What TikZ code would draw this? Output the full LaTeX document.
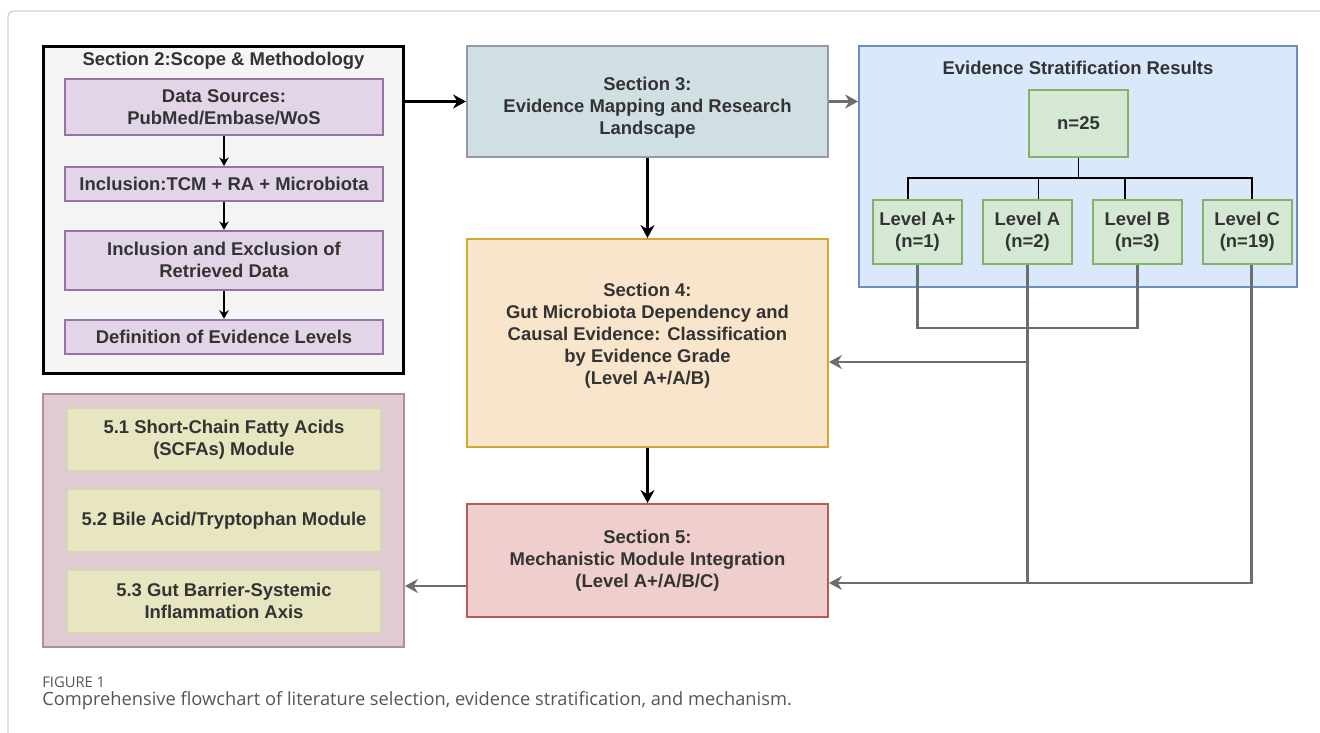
\documentclass[tikz,border=0pt]{standalone}
\usepackage{fontspec}
\setmainfont{Liberation Sans}
\newfontfamily\capfont{Open Sans}
\usetikzlibrary{arrows.meta,positioning}
\definecolor{txt}{HTML}{333333}
\definecolor{secgray}{HTML}{F5F5F5}
\definecolor{pfill}{HTML}{E1D5E7}
\definecolor{pdraw}{HTML}{9673A6}
\definecolor{bfill}{HTML}{D0DFE4}
\definecolor{bdraw}{HTML}{939CA6}
\definecolor{ofill}{HTML}{F8E5CC}
\definecolor{odraw}{HTML}{D4A634}
\definecolor{rfill}{HTML}{EFCECE}
\definecolor{rdraw}{HTML}{B85A57}
\definecolor{sfill}{HTML}{DAE8FC}
\definecolor{sdraw}{HTML}{6C8EBF}
\definecolor{gfill}{HTML}{D5E8D4}
\definecolor{gdraw}{HTML}{82B366}
\definecolor{mfill}{HTML}{E0CAD3}
\definecolor{mdraw}{HTML}{AD8E99}
\definecolor{yfill}{HTML}{E8E6C1}
\definecolor{ydraw}{HTML}{D8D5B0}
\definecolor{lgray}{HTML}{6D6D6D}
\definecolor{framegray}{HTML}{D4D4D4}
\definecolor{capgray}{HTML}{555555}
\begin{document}
\begin{tikzpicture}[x=0.02cm,y=-0.02cm,
    font=\fontsize{10.5}{12.5}\selectfont\bfseries,text=txt,
    box/.style={rectangle,draw,line width=1.1pt,align=center,inner sep=1pt},
    purplebox/.style={box,fill=pfill,draw=pdraw,minimum width=6.36cm},
    modbox/.style={box,fill=yfill,draw=ydraw,minimum width=6.28cm,minimum height=1.26cm},
    lvlbox/.style={box,fill=gfill,draw=gdraw,minimum width=1.78cm,minimum height=1.28cm},
    secbox/.style={box,minimum width=7.22cm},
    smallarr/.style={-{Stealth[length=0.17cm,width=0.19cm]},line width=1pt},
    blackarr/.style={-{Stealth[length=0.26cm,width=0.28cm]},line width=1.6pt},
    grayline/.style={draw=lgray,line width=1.6pt},
    grayarr/.style={grayline,-{Stealth[length=0.26cm,width=0.28cm]}}]
\useasboundingbox (0,0) rectangle (1320,733);
\draw[framegray,line width=0.8pt,rounded corners=3pt] (8,733) -- (8,11) -- (1320,11);
% Section 2
\node[secbox,fill=secgray,draw=black,line width=1.7pt,minimum height=6.56cm] (node1) at (223.5,210) {};
\node (node0) at (223.5,61) {Section 2:Scope \& Methodology};
\node[purplebox,minimum height=1.12cm] (node2) at (224,107) {Data Sources:\\PubMed/Embase/WoS};
\node[purplebox,minimum height=0.68cm,below=0.6cm of node2] (node3) {Inclusion:TCM + RA + Microbiota};
\node[purplebox,minimum height=1.18cm,below=0.56cm of node3] (node4) {Inclusion and Exclusion of\\Retrieved Data};
\node[purplebox,minimum height=0.68cm,below=0.56cm of node4] (node5) {Definition of Evidence Levels};
\draw[smallarr] (node2) -- (node3);
\draw[smallarr] (node3) -- (node4);
\draw[smallarr] (node4) -- (node5);
% Sections 3, 4, 5
\node[secbox,fill=bfill,draw=bdraw,minimum height=2.22cm] (node6) at (647.5,101.5) {};
\node[align=center,yshift=-0.13cm] (node6t) at (node6) {Section 3:\\Evidence Mapping and Research\\Landscape};
\node[secbox,fill=ofill,draw=odraw,minimum height=4.16cm] (node7) at (647.5,343) {};
\node[align=center,yshift=0.14cm] (node7t) at (node7) {Section 4:\\Gut Microbiota Dependency and\\Causal Evidence: Classification\\by Evidence Grade\\(Level A+/A/B)};
\node[secbox,fill=rfill,draw=rdraw,minimum height=2.26cm] (node8) at (647.5,560.5) {Section 5:\\Mechanistic Module Integration\\(Level A+/A/B/C)};
\draw[blackarr,line width=1.3pt] (node1.east |- node6.west) -- (node6.west);
\draw[blackarr] (node6) -- (node7);
\draw[blackarr] (node7) -- (node8);
% Evidence stratification
\node[box,fill=sfill,draw=sdraw,minimum width=8.76cm,minimum height=4.82cm] (node9) at (1078,166.5) {};
\node (node10) at (1078,68) {Evidence Stratification Results};
\node[box,fill=gfill,draw=gdraw,minimum width=1.98cm,minimum height=1.34cm] (node11) at (1078.5,123.5) {n=25};
\node[lvlbox] (node12) at (917.5,232) {Level A+\\(n=1)};
\node[lvlbox,right=0.38cm of node12] (node13) {Level A\\(n=2)};
\node[lvlbox,right=0.38cm of node13] (node14) {Level B\\(n=3)};
\node[lvlbox,right=0.38cm of node14] (node15) {Level C\\(n=19)};
\draw[grayarr] (node6.east) -- (node6.east -| node9.west);
\draw[line width=1pt] (node11.south) -- ++(0,20) coordinate (t1) -| ([xshift=-0.19cm]node12.north);
\draw[line width=1pt] (t1) -| ([xshift=0.22cm]node13.north);
\draw[line width=1pt] (t1) -| ([xshift=-0.24cm]node14.north);
\draw[line width=1pt] (t1) -| ([xshift=0.1cm]node15.north);
% links to sections 4 and 5
\draw[grayline] (node12.south) -- ++(0,63) -| (node14.south);
\draw[grayarr] (node13.south) |- ([yshift=-0.38cm]node7.east);
\draw[grayarr] ([xshift=0.08cm]node15.south) |- ([yshift=-0.45cm]node8.east) coordinate (j1);
\draw[grayline] (node13.south) -- (node13.south |- j1);
% Section 5 modules
\node[secbox,fill=mfill,draw=mdraw,minimum height=5.06cm] (node16) at (223.5,520.5) {};
\node[modbox] (node17) at (224,439.5) {5.1 Short-Chain Fatty Acids\\(SCFAs) Module};
\node[modbox,below=0.32cm of node17] (node18) {5.2 Bile Acid/Tryptophan Module};
\node[modbox,below=0.32cm of node18] (node19) {5.3 Gut Barrier-Systemic\\Inflammation Axis};
\draw[grayarr] ([yshift=-0.51cm]node8.west) -- ([yshift=-0.51cm]node8.west -| node16.east);
% caption
\node[anchor=west,inner sep=0,font=\capfont\fontsize{8.4}{9}\selectfont,text=capgray] (node20) at (42,682) {FIGURE 1};
\node[anchor=west,inner sep=0,font=\capfont\fontsize{10.4}{11}\selectfont,text=capgray] (node21) at (42,701) {Comprehensive flowchart of literature selection, evidence stratification, and mechanism.};
\end{tikzpicture}
\end{document}
